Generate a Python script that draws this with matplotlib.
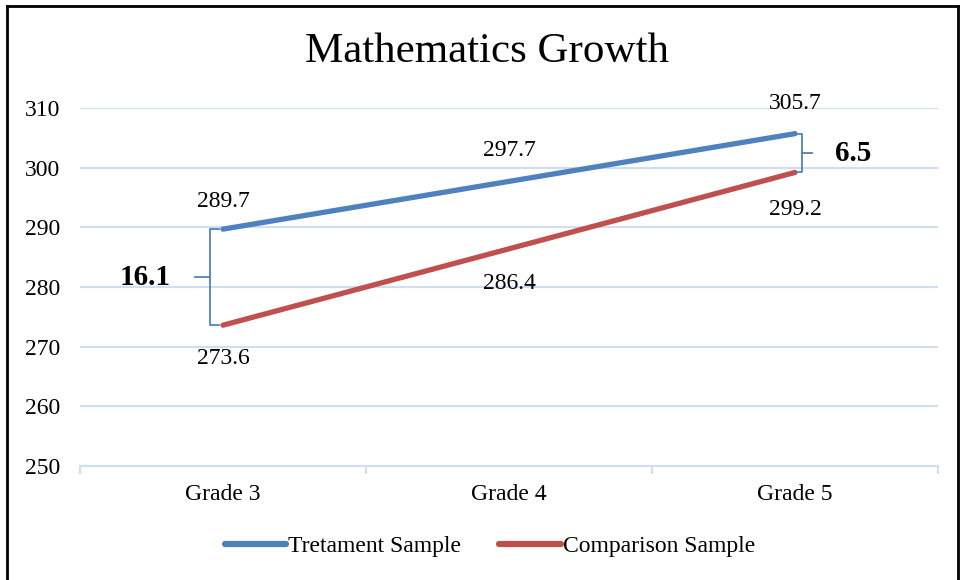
import matplotlib.pyplot as plt
from matplotlib.lines import Line2D

grades = ["Grade 3", "Grade 4", "Grade 5"]
treatment = [289.7, 297.7, 305.7]
comparison = [273.6, 286.4, 299.2]
gap_labels = ["16.1", "6.5"]
series_names = ["Tretament Sample", "Comparison Sample"]
yticks = [250, 260, 270, 280, 290, 300, 310]

BLUE = "#4F81BD"
RED = "#C0504D"
GRID = "#D0DEF0"
FONT = "Liberation Serif"

plt.rcParams["font.family"] = FONT

fig = plt.figure(figsize=(9.6, 5.8), dpi=100)
ax = fig.add_axes([80 / 960, 1 - 466 / 580, 858 / 960, 358 / 580])

x = list(range(len(grades)))
ax.plot(x, treatment, color=BLUE, lw=3.8, solid_capstyle="round")
ax.plot(x, comparison, color=RED, lw=3.8, solid_capstyle="round")

# data labels: offsets (points) above the blue line / below the red line
t_off = [20, 22, 22]
c_off = [-24, -25, -27]
for xi, t, c, to, co in zip(x, treatment, comparison, t_off, c_off):
    ax.annotate(f"{t:.1f}", (xi, t), xytext=(0, to), textcoords="offset points",
                ha="center", va="center", fontsize=17)
    ax.annotate(f"{c:.1f}", (xi, c), xytext=(0, co), textcoords="offset points",
                ha="center", va="center", fontsize=17)

# brace on the left (Grade 3 gap)
t0, c0 = treatment[0], comparison[0]
m0 = (t0 + c0) / 2
ax.plot([-0.015, -0.045, -0.045, -0.015], [t0, t0, c0, c0], color=BLUE, lw=1.3)
ax.plot([-0.045, -0.098], [m0, m0], color=BLUE, lw=1.3)
ax.text(-0.273, m0, gap_labels[0], ha="center", va="center", fontsize=21, fontweight="bold")

# brace on the right (Grade 5 gap)
t2, c2 = treatment[2], comparison[2]
m2 = (t2 + c2) / 2
ax.plot([2.007, 2.024, 2.024, 2.007], [t2, t2, c2, c2], color=BLUE, lw=1.3)
ax.plot([2.024, 2.059], [m2, m2], color=BLUE, lw=1.3)
ax.text(2.205, m2, gap_labels[1], ha="center", va="center", fontsize=21, fontweight="bold")

ax.set_xlim(-0.5, 2.5)
ax.set_ylim(250, 310)
ax.set_yticks(yticks)
ax.set_xticks(x)
ax.set_xticklabels(grades, fontsize=17)
ax.tick_params(axis="y", length=0, labelsize=17, pad=14)
ax.tick_params(axis="x", length=0, pad=13)
ax.set_xticks([-0.5, 0.5, 1.5, 2.5], minor=True)
ax.tick_params(axis="x", which="minor", length=6, color=GRID, width=1.5, direction="out")
ax.yaxis.grid(True, color=GRID, lw=1.5)
ax.set_axisbelow(True)
for s in ["top", "right", "left"]:
    ax.spines[s].set_visible(False)
ax.spines["bottom"].set_color(GRID)
ax.spines["bottom"].set_linewidth(1.5)

fig.text(487 / 960, 1 - 52 / 580, "Mathematics Growth", ha="center", va="center", fontsize=31)

handles = [Line2D([0], [0], color=BLUE, lw=4.5, solid_capstyle="round"),
           Line2D([0], [0], color=RED, lw=4.5, solid_capstyle="round")]
fig.legend(handles, series_names, loc="center", bbox_to_anchor=(490 / 960, 1 - 546 / 580),
           ncol=2, frameon=False, fontsize=17, handlelength=2.6, handletextpad=0.1,
           columnspacing=1.6)

# outer frame
fig.add_artist(Line2D([7 / 960, 7 / 960], [0, 1 - 6 / 580], color="black", lw=2,
                      transform=fig.transFigure))
fig.add_artist(Line2D([7 / 960, 1], [1 - 6 / 580, 1 - 6 / 580], color="black", lw=2,
                      transform=fig.transFigure))
fig.add_artist(Line2D([958 / 960, 958 / 960], [0, 1 - 6 / 580], color="black", lw=2,
                      transform=fig.transFigure))

fig.savefig("out.png", dpi=100, facecolor="white")
